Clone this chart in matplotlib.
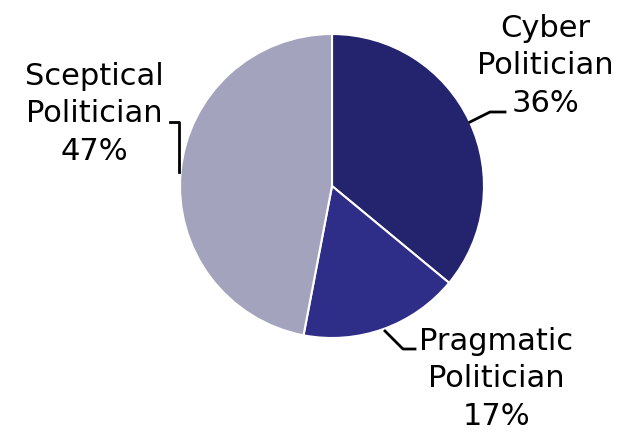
import matplotlib
matplotlib.use('Agg')
import matplotlib.pyplot as plt

# data
labels = ['Cyber\nPolitician', 'Pragmatic\nPolitician', 'Sceptical\nPolitician']
shares = [36, 17, 47]
colors = ['#24246e', '#2e2e88', '#a3a3be']

H = 435
fig = plt.figure(figsize=(6.23, 4.35), dpi=100)
ax = fig.add_axes([0, 0, 1, 1])

ax.pie(shares, colors=colors, startangle=90, counterclock=False,
       center=(332, H - 187), radius=152,
       wedgeprops=dict(edgecolor='white', linewidth=1.5))

# pie() resets the limits, so set them afterwards
ax.set_xlim(0, 623)
ax.set_ylim(0, H)
ax.set_aspect('equal')
ax.axis('off')

# label text
txt_pos = [(545, 66), (496, 379), (94, 114)]
for lab, val, (x, y) in zip(labels, shares, txt_pos):
    ax.text(x, H - y, '%s\n%d%%' % (lab, val), ha='center', va='center',
            fontsize=22, linespacing=1.35, color='black')

# leader lines
ax.plot([470, 490, 505], [H - 123, H - 113, H - 113], color='black', lw=2)
ax.plot([385, 403, 415], [H - 332, H - 350, H - 350], color='black', lw=2)
ax.plot([170, 179, 179], [H - 123, H - 123, H - 173], color='black', lw=2)

fig.savefig('out.png', dpi=100)
